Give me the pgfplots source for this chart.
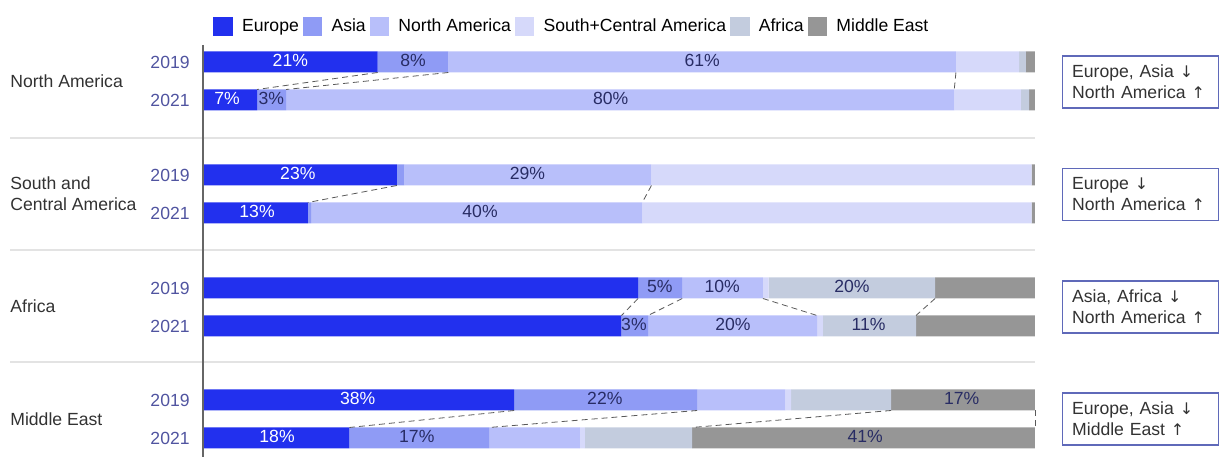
\documentclass[border=0pt]{standalone}
\usepackage{pgfplots}
\pgfplotsset{compat=1.18}
\usepackage{fontspec}
\setmainfont{Liberation Sans}
\newfontfamily\arrowfont{DejaVu Sans}
\definecolor{eu}{RGB}{34,48,238}
\definecolor{as}{RGB}{143,155,245}
\definecolor{nam}{RGB}{184,191,250}
\definecolor{sca}{RGB}{214,217,250}
\definecolor{afr}{RGB}{195,204,222}
\definecolor{mde}{RGB}{150,150,150}
\definecolor{yearcol}{RGB}{80,84,160}
\definecolor{labcol}{RGB}{40,44,100}
\definecolor{boxcol}{RGB}{95,105,185}
\definecolor{grpcol}{RGB}{50,50,50}
\begin{document}
\begin{tikzpicture}[font=\fontsize{8.8}{10.5}\selectfont]
\pgfplotsset{base/.style={width=416pt,height=233.5pt,scale only axis,
  xmin=0,xmax=100,ymin=-467,ymax=0,axis lines=none,xtick=\empty,ytick=\empty,clip=false}}
\begin{axis}[base, xbar stacked, bar width=10.5pt]
\addplot[fill=eu,draw=none] coordinates {(21,-62) (6.5,-100) (23.3,-175) (12.6,-213) (52.3,-288) (50.3,-326) (37.4,-400) (17.6,-438)};
\addplot[fill=as,draw=none] coordinates {(8.5,-62) (3.5,-100) (0.9,-175) (0.4,-213) (5.3,-288) (3.2,-326) (22,-400) (16.8,-438)};
\addplot[fill=nam,draw=none] coordinates {(61,-62) (80.3,-100) (29.7,-175) (39.8,-213) (9.7,-288) (20.3,-326) (10.6,-400) (10.9,-438)};
\addplot[fill=sca,draw=none] coordinates {(7.6,-62) (8,-100) (45.7,-175) (46.8,-213) (0.7,-288) (0.7,-326) (0.7,-400) (0.6,-438)};
\addplot[fill=afr,draw=none] coordinates {(0.8,-62) (1,-100) (0,-175) (0,-213) (20,-288) (11.2,-326) (12,-400) (12.9,-438)};
\addplot[fill=mde,draw=none] coordinates {(1.1,-62) (0.7,-100) (0.4,-175) (0.4,-213) (12,-288) (14.3,-326) (17.3,-400) (41.2,-438)};
\end{axis}
\begin{axis}[base, legend columns=-1,
  legend style={at={(axis cs:1.2,-27)}, anchor=west, draw=none, fill=none, inner sep=0pt,
    /tikz/every odd column/.append style={column sep=2.6pt}},
  legend image code/.code={\path[#1] (0pt,-4.75pt) rectangle (9.75pt,4.75pt);}]
\addlegendimage{fill=eu,draw=none}\addlegendentry{Europe}
\addlegendimage{fill=as,draw=none}\addlegendentry{Asia}
\addlegendimage{fill=nam,draw=none}\addlegendentry{North America}
\addlegendimage{fill=sca,draw=none}\addlegendentry{South+Central America}
\addlegendimage{fill=afr,draw=none}\addlegendentry{Africa}
\addlegendimage{fill=mde,draw=none}\addlegendentry{Middle East}
% separators and axis line
\draw[gray!22, line width=0.9pt] (axis cs:-23.2,-138) -- (axis cs:100,-138);
\draw[gray!22, line width=0.9pt] (axis cs:-23.2,-250) -- (axis cs:100,-250);
\draw[gray!22, line width=0.9pt] (axis cs:-23.2,-362) -- (axis cs:100,-362);
\draw[gray!80!black, line width=0.6pt] (axis cs:0,-45) -- (axis cs:0,-457);
% connectors
\pgfplotsset{conn/.style={densely dashed, gray!70!black, line width=0.4pt}}
\addplot[conn] coordinates {(21,-72.5) (6.5,-89.5)};
\addplot[conn] coordinates {(29.5,-72.5) (10,-89.5)};
\addplot[conn] coordinates {(90.5,-72.5) (90.3,-89.5)};
\addplot[conn] coordinates {(23.3,-185.5) (12.6,-202.5)};
\addplot[conn] coordinates {(53.9,-185.5) (52.8,-202.5)};
\addplot[conn] coordinates {(52.3,-298.5) (50.3,-315.5)};
\addplot[conn] coordinates {(57.6,-298.5) (53.5,-315.5)};
\addplot[conn] coordinates {(67.3,-298.5) (73.8,-315.5)};
\addplot[conn] coordinates {(88,-298.5) (85.7,-315.5)};
\addplot[conn] coordinates {(37.4,-410.5) (17.6,-427.5)};
\addplot[conn] coordinates {(59.4,-410.5) (34.4,-427.5)};
\addplot[conn] coordinates {(82.7,-410.5) (58.8,-427.5)};
\addplot[conn] coordinates {(100,-410.5) (100,-427.5)};
% value labels
\begin{scope}[every node/.style={text=labcol}]
\node[text=white] at (axis cs:10.5,-60.5) {21\%};
\node at (axis cs:25.25,-60.5) {8\%};
\node at (axis cs:60,-60.5) {61\%};
\node[text=white] at (axis cs:2.9,-98.5) {7\%};
\node at (axis cs:8.2,-98.5) {3\%};
\node at (axis cs:49,-98.5) {80\%};
\node[text=white] at (axis cs:11.4,-173.5) {23\%};
\node at (axis cs:39,-173.5) {29\%};
\node[text=white] at (axis cs:6.5,-211.5) {13\%};
\node at (axis cs:33.3,-211.5) {40\%};
\node at (axis cs:54.9,-286.5) {5\%};
\node at (axis cs:62.4,-286.5) {10\%};
\node at (axis cs:78,-286.5) {20\%};
\node at (axis cs:51.8,-324.5) {3\%};
\node at (axis cs:63.7,-324.5) {20\%};
\node at (axis cs:80,-324.5) {11\%};
\node[text=white] at (axis cs:18.6,-398.5) {38\%};
\node at (axis cs:48.3,-398.5) {22\%};
\node at (axis cs:91.2,-398.5) {17\%};
\node[text=white] at (axis cs:8.9,-436.5) {18\%};
\node at (axis cs:25.7,-436.5) {17\%};
\node at (axis cs:79.6,-436.5) {41\%};
\end{scope}
% year labels
\begin{scope}[every node/.style={text=yearcol, anchor=east, inner xsep=0pt}]
\node at (axis cs:-1.56,-62) {2019};
\node at (axis cs:-1.56,-175) {2019};
\node at (axis cs:-1.56,-288) {2019};
\node at (axis cs:-1.56,-400) {2019};
\node at (axis cs:-1.56,-100) {2021};
\node at (axis cs:-1.56,-213) {2021};
\node at (axis cs:-1.56,-326) {2021};
\node at (axis cs:-1.56,-438) {2021};
\end{scope}
% group labels
\begin{scope}[every node/.style={text=grpcol, anchor=west, inner xsep=0pt, align=left}]
\node at (axis cs:-23.2,-81) {North America};
\node at (axis cs:-23.2,-194) {South and\\Central America};
\node at (axis cs:-23.2,-306) {Africa};
\node at (axis cs:-23.2,-419) {Middle East};
\end{scope}
% right boxes
\begin{scope}[every node/.style={draw=boxcol, line width=0.6pt, anchor=west, text=grpcol,
   minimum height=26pt, text width=68pt, inner xsep=5pt, align=left}]
\node at (axis cs:103.2,-82) {Europe, Asia {\arrowfont\footnotesize↓}\\North America {\arrowfont\footnotesize↑}};
\node at (axis cs:103.2,-194.5) {Europe {\arrowfont\footnotesize↓}\\North America {\arrowfont\footnotesize↑}};
\node at (axis cs:103.2,-307) {Asia, Africa {\arrowfont\footnotesize↓}\\North America {\arrowfont\footnotesize↑}};
\node at (axis cs:103.2,-419) {Europe, Asia {\arrowfont\footnotesize↓}\\Middle East {\arrowfont\footnotesize↑}};
\end{scope}
\path (axis cs:-24.4,0) -- (axis cs:122.36,-467);
\end{axis}
\end{tikzpicture}
\end{document}
